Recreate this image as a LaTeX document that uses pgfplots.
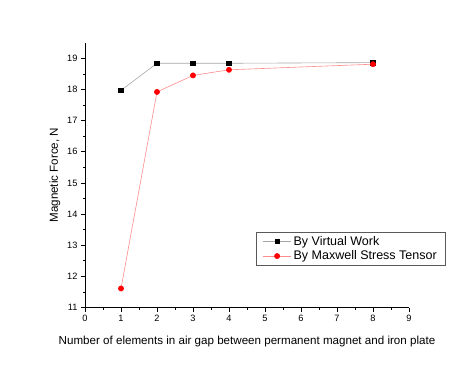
\documentclass[border=0pt]{standalone}
\usepackage{pgfplots}
\pgfplotsset{compat=1.18}
\usepackage{fontspec}
\setmainfont{Liberation Sans}
\begin{document}
\begin{tikzpicture}[x=1pt,y=1pt]
\useasboundingbox (-85,-61.5) rectangle (391,307.5);
\begin{axis}[
  at={(0,0)}, anchor=origin,
  scale only axis, width=324pt, height=264.8pt,
  xmin=0, xmax=9, ymin=11, ymax=19.5,
  axis x line=bottom, axis y line=left,
  axis line style={-, line width=0.8pt},
  xtick={0,...,9}, ytick={11,...,19},
  minor x tick num=1, minor y tick num=1,
  tick align=outside,
  major tick length=4pt, minor tick length=2.2pt,
  tick style={black, line width=0.6pt},
  /pgf/number format/assume math mode=true,
  ticklabel style={font=\fontsize{9.2}{11}\selectfont},
  xlabel={Number of elements in air gap between permanent magnet and iron plate},
  ylabel={Magnetic Force, N},
  label style={font=\fontsize{11.6}{13}\selectfont},
  xlabel style={yshift=-8pt},
  ylabel style={yshift=0pt},
  legend style={at={(1.111,0.285)}, anchor=north east, draw=gray!70!black,
    font=\fontsize{12.5}{14}\selectfont, row sep=0pt, inner xsep=6pt, inner ysep=2pt},
  legend cell align=left,
  legend image code/.code={
    \draw[mark repeat=2,mark phase=2,#1] plot coordinates {(0cm,0cm) (0.5cm,0cm) (1.0cm,0cm)};
  },
]
\addplot[color=gray!70, line width=0.6pt, mark=square*, mark size=2.2pt, mark options={fill=black, draw=black}]
  coordinates {(1,17.97) (2,18.84) (3,18.84) (4,18.84) (8,18.86)};
\addlegendentry{By Virtual Work}
\addplot[color=red!45, line width=0.6pt, mark=*, mark size=2.6pt, mark options={fill=red, draw=red}]
  coordinates {(1,11.61) (2,17.92) (3,18.45) (4,18.63) (8,18.81)};
\addlegendentry{By Maxwell Stress Tensor}
\end{axis}
\end{tikzpicture}
\end{document}
